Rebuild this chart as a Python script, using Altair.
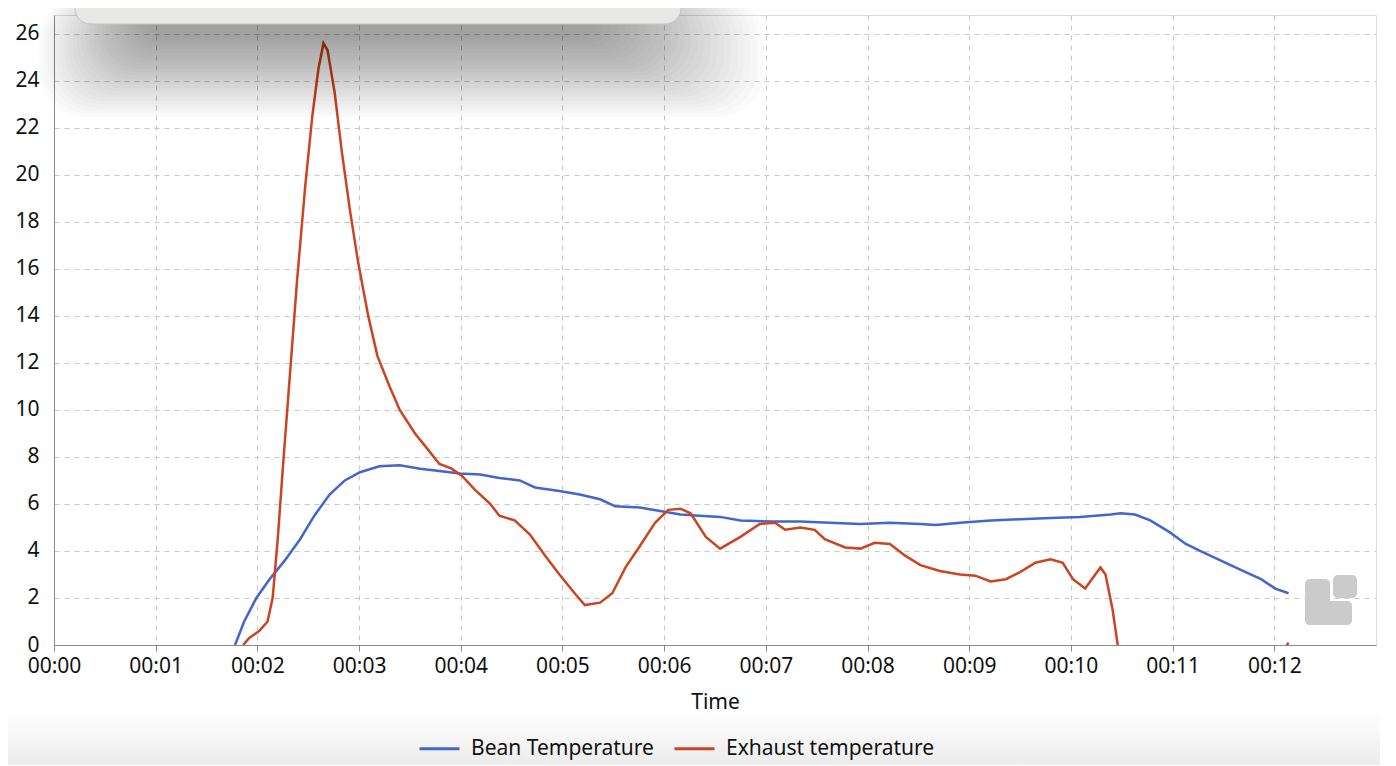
import altair as alt
import pandas as pd

# ---- data (minutes, value) ----
bean_t = [1.78, 1.87, 1.99, 2.12, 2.27, 2.42, 2.56, 2.71, 2.86, 3.01, 3.20, 3.40, 3.60, 3.79,
          3.99, 4.19, 4.38, 4.58, 4.73, 4.97, 5.17, 5.37, 5.52, 5.76, 5.96, 6.16, 6.35, 6.55,
          6.75, 7.04, 7.34, 7.63, 7.93, 8.22, 8.52, 8.67, 8.91, 9.21, 9.50, 9.80, 10.09, 10.39,
          10.49, 10.63, 10.78, 10.97, 11.13, 11.27, 11.47, 11.67, 11.87, 12.01, 12.14]
bean_v = [0.0, 1.0, 2.0, 2.8, 3.6, 4.5, 5.5, 6.4, 7.0, 7.35, 7.6, 7.65, 7.5, 7.4,
          7.3, 7.25, 7.1, 7.0, 6.7, 6.55, 6.4, 6.2, 5.9, 5.85, 5.7, 5.55, 5.5, 5.45,
          5.3, 5.25, 5.25, 5.2, 5.15, 5.2, 5.15, 5.1, 5.2, 5.3, 5.35, 5.4, 5.45, 5.55,
          5.6, 5.55, 5.3, 4.8, 4.3, 4.0, 3.6, 3.2, 2.8, 2.4, 2.2]

exh_t = [1.86, 1.92, 2.02, 2.10, 2.15, 2.20, 2.25, 2.32, 2.39, 2.47, 2.54, 2.60, 2.65, 2.69,
         2.76, 2.83, 2.91, 2.99, 3.09, 3.18, 3.30, 3.40, 3.55, 3.68, 3.79, 3.91, 4.01, 4.14,
         4.29, 4.38, 4.53, 4.68, 4.83, 4.97, 5.12, 5.22, 5.37, 5.49, 5.62, 5.76, 5.91, 6.04,
         6.16, 6.26, 6.41, 6.55, 6.75, 6.94, 7.09, 7.19, 7.34, 7.48, 7.58, 7.78, 7.93, 8.07,
         8.22, 8.37, 8.52, 8.71, 8.91, 9.06, 9.21, 9.36, 9.50, 9.65, 9.80, 9.92, 10.02, 10.14,
         10.29, 10.34, 10.41, 10.46, 10.60, 11.20, 12.05, 12.14]
exh_v = [0.0, 0.3, 0.6, 1.0, 2.0, 4.5, 7.5, 11.5, 15.5, 19.5, 22.5, 24.5, 25.6, 25.3,
         23.5, 21.0, 18.5, 16.3, 14.0, 12.3, 11.0, 10.0, 9.0, 8.3, 7.7, 7.5, 7.2, 6.6,
         6.0, 5.5, 5.3, 4.7, 3.8, 3.0, 2.2, 1.7, 1.8, 2.2, 3.3, 4.2, 5.2, 5.75,
         5.8, 5.6, 4.6, 4.1, 4.6, 5.15, 5.2, 4.9, 5.0, 4.9, 4.5, 4.15, 4.1, 4.35,
         4.3, 3.8, 3.4, 3.15, 3.0, 2.95, 2.7, 2.8, 3.1, 3.5, 3.65, 3.5, 2.8, 2.4,
         3.3, 3.0, 1.5, 0.0, -1.5, -4.0, -0.5, 0.1]

series_names = ["Bean Temperature", "Exhaust temperature"]
series_colors = ["#4466cc", "#cc4422"]
x_ticks = list(range(0, 13))
y_ticks = list(range(0, 27, 2))

df = pd.concat([
    pd.DataFrame({"t": bean_t, "v": bean_v, "series": series_names[0], "o": range(len(bean_t))}),
    pd.DataFrame({"t": exh_t, "v": exh_v, "series": series_names[1], "o": range(len(exh_t))}),
])

FONT = "Noto Sans"
FS = 21
W, H = 1322, 630

lines = alt.Chart(df).mark_line(strokeWidth=2.5, clip=True).encode(
    x=alt.X("t:Q", title="Time",
            scale=alt.Scale(domain=[0, 13], nice=False, zero=False),
            axis=alt.Axis(values=x_ticks,
                          labelExpr="'00:' + (datum.value < 10 ? '0' : '') + datum.value",
                          grid=True, gridDash=[5, 5], gridColor="#c8c8c8",
                          domainColor="#8a8a8a", tickColor="#8a8a8a", tickSize=6,
                          labelFontSize=FS, titleFontSize=FS, labelFont=FONT, titleFont=FONT,
                          labelColor="#111", titleColor="#111", titleFontWeight="normal",
                          labelPadding=4, titlePadding=15, labelFlush=False)),
    y=alt.Y("v:Q", title=None,
            scale=alt.Scale(domain=[0, 26.8], nice=False),
            axis=alt.Axis(values=y_ticks, grid=True, gridDash=[5, 5], gridColor="#c8c8c8",
                          domainColor="#8a8a8a", ticks=False, labelFontSize=FS,
                          labelFont=FONT, labelColor="#111", labelPadding=15)),
    color=alt.Color("series:N", title=None,
                    scale=alt.Scale(domain=series_names, range=series_colors),
                    legend=alt.Legend(orient="none", legendX=364, legendY=712,
                                      direction="horizontal",
                                      symbolType="stroke", symbolSize=1600,
                                      symbolStrokeWidth=3, labelFontSize=FS, labelFont=FONT,
                                      labelColor="#111", labelLimit=0, columnPadding=14,
                                      labelOffset=10)),
    order="o:Q",
)

# popup overlay with soft shadow (screenshot artifact)
n_sh = 26
shadow_rows = []
for i in range(n_sh):
    f = i / (n_sh - 1)
    shadow_rows.append({"x1": 90 - 105 * f, "x2": 545 + 165 * f,
                        "y1": -20.0, "y2": 22 + 80 * f})
sh_df = pd.DataFrame(shadow_rows)
shadow = alt.Chart(sh_df).mark_rect(color="black", opacity=0.017, cornerRadius=45, clip=False).encode(
    x=alt.X("x1:Q", scale=None), x2="x2:Q",
    y=alt.Y("y1:Q", scale=None), y2="y2:Q",
)
popup = alt.Chart(pd.DataFrame({"a": [0]})).mark_rect(
    fill="#e8e8e6", stroke="#c4c4c4", strokeWidth=1, cornerRadius=16, clip=False
).encode(x=alt.value(21), x2=alt.value(627), y=alt.value(-40), y2=alt.value(9))

# watermark logo (bottom right)
logo_df = pd.DataFrame({
    "x1": [1251, 1251, 1279], "x2": [1276, 1298, 1303],
    "y1": [564, 586, 560], "y2": [610, 610, 583],
})
logo = alt.Chart(logo_df).mark_rect(color="#cbcbcb", cornerRadius=5, clip=False).encode(
    x=alt.X("x1:Q", scale=None), x2="x2:Q",
    y=alt.Y("y1:Q", scale=None), y2="y2:Q",
)

# light gradient at the bottom of the window
bottom_bg = alt.Chart(pd.DataFrame({"a": [0]})).mark_rect(
    clip=False,
    color=alt.Gradient(gradient="linear", x1=0, y1=0, x2=0, y2=1,
                       stops=[alt.GradientStop(color="#ffffff", offset=0),
                              alt.GradientStop(color="#e9e9e9", offset=1)]),
).encode(x=alt.value(-60), x2=alt.value(1350), y=alt.value(695), y2=alt.value(760))

chart = alt.layer(bottom_bg, logo, lines, shadow, popup).properties(
    width=W, height=H,
    autosize=alt.AutoSizeParams(type="none"),
    padding={"left": 46, "top": 7, "right": 4, "bottom": 120},
).configure_view(stroke="#8a8a8a", strokeWidth=1).configure(background="white")

chart.save("out.html", embed_options={"renderer": "svg", "actions": False})
